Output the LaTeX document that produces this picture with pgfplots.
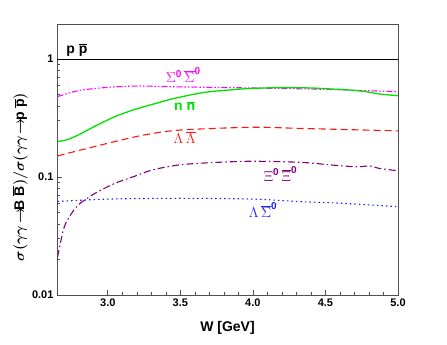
\documentclass[border=0pt]{standalone}
\usepackage{fontspec}
\setmainfont{Liberation Sans}
\usepackage{pgfplots}
\pgfplotsset{compat=1.18}
\definecolor{cmag}{RGB}{255,0,255}
\definecolor{cgreen}{RGB}{0,225,0}
\definecolor{cred}{RGB}{255,20,20}
\definecolor{cpurp}{RGB}{128,0,128}
\definecolor{cblue}{RGB}{30,30,255}
\definecolor{cframe}{RGB}{80,80,80}
\newcommand{\ob}[1]{$\overline{\mbox{\textbf{#1}}}$}
\newcommand{\zs}{\mbox{\bfseries\fontsize{10}{11}\selectfont 0}}
\begin{document}
\begin{tikzpicture}
\begin{axis}[
  scale only axis, width=341pt, height=271pt,
  ymode=log, xmin=2.65, xmax=5.0, ymin=0.01, ymax=1.98,
  axis line style={cframe, line width=0.9pt},
  xtick={3.0,3.5,4.0,4.5,5.0}, xticklabels={3.0,3.5,4.0,4.5,5.0},
  minor x tick num=4,
  ytick={0.01,0.1,1}, yticklabels={0.01,0.1,1},
  xtick pos=left, ytick pos=left,
  tick align=inside,
  major tick length=5pt, minor tick length=3pt,
  tick style={cframe, line width=0.6pt},
  /pgf/number format/assume math mode=true,
  ticklabel style={font=\bfseries\fontsize{11}{13}\selectfont},
  xlabel={\bfseries W [GeV]},
  xlabel style={font=\fontsize{14}{16}\selectfont, at={(axis description cs:0.5,-0.085)}, anchor=north},
  ylabel={$\sigma(\gamma\gamma\!\rightarrow\!$\textbf{B \ob{B}}$)/\sigma(\gamma\gamma\!\rightarrow\!$\textbf{p \ob{p}}$)$},
  ylabel style={font=\bfseries\boldmath\fontsize{14}{16}\selectfont, at={(axis description cs:-0.108,0.435)}, anchor=center},
  clip=true,
]
% p pbar
\addplot[black, line width=0.9pt] coordinates {(2.65,1) (5.0,1)};
% Sigma0 Sigma0bar
\addplot[cmag, line width=1.1pt, smooth, dash pattern=on 6pt off 2pt on 1.5pt off 2pt on 1.5pt off 2pt] coordinates {
(2.654,0.48) (2.8,0.54) (3.0,0.575) (3.22,0.59) (3.5,0.58) (4.0,0.568) (4.5,0.553) (5.0,0.528)};
% n nbar
\addplot[cgreen, line width=1.3pt, smooth] coordinates {
(2.654,0.20) (2.72,0.207) (2.8,0.228) (2.913,0.27) (3.05,0.325) (3.19,0.375) (3.33,0.42) (3.46,0.464) (3.66,0.52) (3.85,0.548) (4.0,0.564) (4.2,0.572) (4.4,0.568) (4.55,0.556) (4.67,0.546) (4.78,0.528) (4.875,0.505) (5.0,0.489)};
% Lambda Lambdabar
\addplot[cred, line width=1.1pt, smooth, dash pattern=on 7pt off 4pt] coordinates {
(2.654,0.151) (3.0,0.193) (3.25,0.227) (3.5,0.25) (4.0,0.264) (4.33,0.258) (5.0,0.246)};
% Xi0 Xi0bar
\addplot[cpurp, line width=1.1pt, smooth, dash pattern=on 7pt off 3pt on 1.5pt off 3pt] coordinates {
(2.654,0.021) (2.694,0.0356) (2.729,0.0447) (2.797,0.058) (2.913,0.0728) (3.05,0.0885) (3.19,0.102) (3.31,0.115) (3.5,0.127) (3.75,0.133) (4.0,0.136) (4.334,0.133) (4.554,0.126) (4.715,0.122) (4.806,0.124) (4.875,0.118) (5.0,0.113)};
% Lambda Sigma0bar
\addplot[cblue, line width=1.1pt, smooth, dash pattern=on 1.5pt off 3pt] coordinates {
(2.654,0.062) (3.0,0.065) (3.5,0.066) (4.0,0.065) (4.33,0.0618) (4.6,0.060) (5.0,0.056)};
\node[font=\bfseries\fontsize{14}{16}\selectfont] at (axis cs:2.787,1.19) {p \ob{p}};
\node[cmag, font=\fontsize{14}{16}\selectfont] at (axis cs:3.52,0.73) {$\Sigma^{\zs}\,\overline{\Sigma}^{\zs}$};
\node[cgreen, font=\bfseries\fontsize{14}{16}\selectfont] at (axis cs:3.53,0.40) {n \ob{n}};
\node[cred, font=\fontsize{14}{16}\selectfont] at (axis cs:3.53,0.217) {$\Lambda\,\overline{\Lambda}$};
\node[cpurp, font=\fontsize{14}{16}\selectfont] at (axis cs:4.19,0.107) {$\Xi^{\zs}\,\overline{\Xi}^{\zs}$};
\node[cblue, font=\fontsize{14}{16}\selectfont] at (axis cs:4.07,0.0525) {$\Lambda\,\overline{\Sigma}^{\zs}$};
\end{axis}
\path (current axis.south west) ++(-57pt,-50pt) coordinate (bbA);
\path (current axis.north east) ++(49pt,24pt) coordinate (bbB);
\useasboundingbox (bbA) rectangle (bbB);
\end{tikzpicture}
\end{document}
